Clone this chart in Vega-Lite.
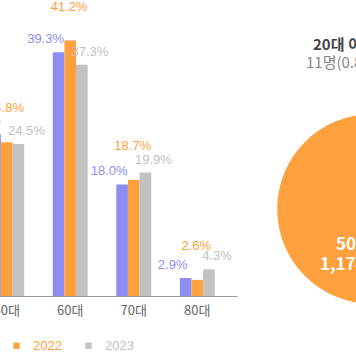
{
  "$schema": "https://vega.github.io/schema/vega-lite/v6.json",
  "width": 270,
  "height": 279,
  "autosize": {"type": "none"},
  "padding": {"left": -33, "top": 17, "right": 119, "bottom": 68},
  "background": "white",
  "config": {"view": {"stroke": null}, "font": "Liberation Sans"},
  "layer": [
    {
      "data": {"values": [
        {"age": "50대", "year": "2021", "share": 0.261},
        {"age": "50대", "year": "2022", "share": 0.248},
        {"age": "50대", "year": "2023", "share": 0.245},
        {"age": "60대", "year": "2021", "share": 0.393},
        {"age": "60대", "year": "2022", "share": 0.412},
        {"age": "60대", "year": "2023", "share": 0.373},
        {"age": "70대", "year": "2021", "share": 0.180},
        {"age": "70대", "year": "2022", "share": 0.187},
        {"age": "70대", "year": "2023", "share": 0.199},
        {"age": "80대", "year": "2021", "share": 0.029},
        {"age": "80대", "year": "2022", "share": 0.026},
        {"age": "80대", "year": "2023", "share": 0.043}
      ]},
      "encoding": {
        "x": {"field": "age", "type": "nominal", "sort": ["50대", "60대", "70대", "80대"],
              "scale": {"paddingInner": 0.45, "paddingOuter": 0.35},
              "axis": {"title": null, "labelAngle": 0, "ticks": false, "grid": false, "domainColor": "#9a9a9a", "labelColor": "#666666", "labelFont": "Noto Sans CJK KR", "labelFontSize": 13, "labelPadding": 8}},
        "xOffset": {"field": "year", "type": "nominal", "sort": ["2021", "2022", "2023"], "scale": {"paddingInner": 0, "paddingOuter": 0}},
        "y": {"field": "share", "type": "quantitative", "scale": {"domain": [0, 0.45]}, "axis": null},
        "color": {"field": "year", "type": "nominal",
                  "scale": {"domain": ["2021", "2022", "2023"], "range": ["#8E8EF2", "#FFA03E", "#C2C2C2"]},
                  "legend": {"orient": "none", "legendX": -29, "legendY": 322, "direction": "horizontal", "title": null, "symbolType": "square", "symbolSize": 40, "symbolStrokeWidth": 0, "labelFontSize": 13, "labelOffset": 10, "columnPadding": 20, "padding": 0,
                             "encode": {"labels": {"update": {"fill": {"scale": "color", "field": "value"}}}}}}
      },
      "layer": [
        {"mark": {"type": "bar"}},
        {"transform": [{"filter": "datum.year == '2021'"}],
         "mark": {"type": "text", "dx": -13, "dy": -6, "baseline": "bottom", "fontSize": 13},
         "encoding": {"text": {"field": "share", "type": "quantitative", "format": ".1%"}}},
        {"transform": [{"filter": "datum.year == '2022'"}],
         "mark": {"type": "text", "dx": -1, "dy": -27, "baseline": "bottom", "fontSize": 13},
         "encoding": {"text": {"field": "share", "type": "quantitative", "format": ".1%"}}},
        {"transform": [{"filter": "datum.year == '2023'"}],
         "mark": {"type": "text", "dx": 8, "dy": -6, "baseline": "bottom", "fontSize": 13},
         "encoding": {"text": {"field": "share", "type": "quantitative", "format": ".1%"}}}
      ]
    },
    {
      "data": {"values": [
        {"group": "20대 이하", "count": 11, "note": "11명(0.8%)", "bx": 70, "by": 98.9},
        {"group": "50대 이상", "count": 1174, "note": "1,174명(86.0%)", "bx": 68.75, "by": 31.2}
      ]},
      "encoding": {
        "x": {"field": "bx", "type": "quantitative", "scale": {"domain": [0, 100], "range": [240, 480]}, "axis": null},
        "y": {"field": "by", "type": "quantitative", "scale": {"domain": [0, 100]}, "axis": null}
      },
      "layer": [
        {"mark": {"type": "circle", "opacity": 1, "color": "#FFA03E"},
         "encoding": {"size": {"field": "count", "type": "quantitative", "scale": {"domain": [0, 1174], "range": [0, 35968]}, "legend": null}}},
        {"transform": [{"filter": "datum.group == '50대 이상'"}],
         "mark": {"type": "text", "align": "left", "baseline": "middle", "dx": -36, "dy": 36, "fill": "white", "fontWeight": "bold", "fontSize": 17, "font": "Noto Sans CJK KR"},
         "encoding": {"text": {"field": "group"}}},
        {"transform": [{"filter": "datum.group == '50대 이상'"}],
         "mark": {"type": "text", "align": "left", "baseline": "middle", "dx": -52, "dy": 56, "fill": "white", "fontWeight": "bold", "fontSize": 17, "font": "Noto Sans CJK KR"},
         "encoding": {"text": {"field": "note"}}},
        {"transform": [{"filter": "datum.group == '20대 이하'"}],
         "mark": {"type": "text", "align": "left", "baseline": "middle", "dx": -62, "dy": 25, "fill": "#444444", "fontWeight": "bold", "fontSize": 15, "font": "Noto Sans CJK KR"},
         "encoding": {"text": {"field": "group"}}},
        {"transform": [{"filter": "datum.group == '20대 이하'"}],
         "mark": {"type": "text", "align": "left", "baseline": "middle", "dx": -69, "dy": 43, "fill": "#888888", "fontSize": 15, "font": "Noto Sans CJK KR"},
         "encoding": {"text": {"field": "note"}}}
      ]
    }
  ],
  "resolve": {"scale": {"x": "independent", "y": "independent"}}
}
